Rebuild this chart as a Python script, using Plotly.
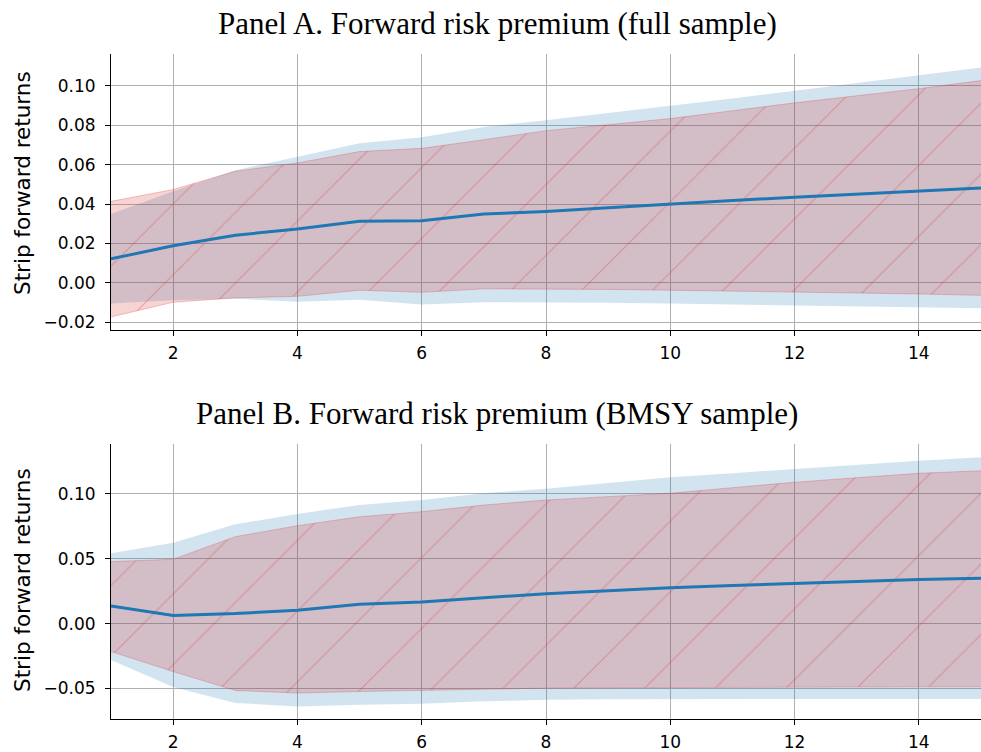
import plotly.graph_objects as go

maturity = list(range(1, 16))
x_ticks = [2, 4, 6, 8, 10, 12, 14]

# Panel A (full sample)
mean_a = [0.0122, 0.0189, 0.0242, 0.0274, 0.0313, 0.0316, 0.0350, 0.0362, 0.0381, 0.0401, 0.0418, 0.0435, 0.0450, 0.0465, 0.0482]
red_up_a = [0.0414, 0.0474, 0.0567, 0.0609, 0.0667, 0.0683, 0.0727, 0.0773, 0.0803, 0.0834, 0.0874, 0.0914, 0.0950, 0.0986, 0.1027]
red_lo_a = [-0.0173, -0.0098, -0.0076, -0.0068, -0.0037, -0.0048, -0.0030, -0.0030, -0.0033, -0.0037, -0.0041, -0.0046, -0.0051, -0.0056, -0.0063]
blue_up_a = [0.0350, 0.0465, 0.0572, 0.0640, 0.0709, 0.0739, 0.0792, 0.0826, 0.0862, 0.0897, 0.0936, 0.0976, 0.1016, 0.1056, 0.1093]
blue_lo_a = [-0.0105, -0.0088, -0.0081, -0.0096, -0.0085, -0.0110, -0.0098, -0.0098, -0.0101, -0.0105, -0.0110, -0.0114, -0.0118, -0.0122, -0.0129]

# Panel B (BMSY sample)
mean_b = [0.0136, 0.0062, 0.0077, 0.0103, 0.0149, 0.0167, 0.0200, 0.0230, 0.0254, 0.0277, 0.0294, 0.0311, 0.0325, 0.0339, 0.0350]
red_up_b = [0.0478, 0.0496, 0.0670, 0.0755, 0.0824, 0.0863, 0.0914, 0.0953, 0.0979, 0.1005, 0.1048, 0.1090, 0.1125, 0.1159, 0.1179]
red_lo_b = [-0.0216, -0.0370, -0.0516, -0.0536, -0.0524, -0.0516, -0.0503, -0.0498, -0.0495, -0.0493, -0.0490, -0.0488, -0.0488, -0.0488, -0.0488]
blue_up_b = [0.0542, 0.0624, 0.0766, 0.0846, 0.0915, 0.0953, 0.1005, 0.1040, 0.1084, 0.1128, 0.1160, 0.1192, 0.1224, 0.1256, 0.1282]
blue_lo_b = [-0.0280, -0.0489, -0.0612, -0.0639, -0.0626, -0.0618, -0.0600, -0.0587, -0.0584, -0.0582, -0.0582, -0.0582, -0.0582, -0.0582, -0.0582]

titles = ["Panel A. Forward risk premium (full sample)", "Panel B. Forward risk premium (BMSY sample)"]
ylabel = "Strip forward returns"

BLUE = "rgb(31,119,180)"
BLUE_FILL = "rgba(31,119,180,0.2)"
RED_FILL = "rgba(214,39,40,0.2)"
RED_EDGE = "rgba(214,39,40,0.25)"

fig = go.Figure()


def add_panel(xa, ya, mean, rup, rlo, bup, blo):
    fig.add_trace(go.Scatter(x=maturity, y=blo, xaxis=xa, yaxis=ya, mode="lines",
                             line=dict(width=0, color=BLUE_FILL), showlegend=False, hoverinfo="skip"))
    fig.add_trace(go.Scatter(x=maturity, y=bup, xaxis=xa, yaxis=ya, mode="lines",
                             line=dict(width=0, color=BLUE_FILL), fill="tonexty", fillcolor=BLUE_FILL,
                             showlegend=False, hoverinfo="skip"))
    fig.add_trace(go.Scatter(x=maturity, y=rlo, xaxis=xa, yaxis=ya, mode="lines",
                             line=dict(width=1, color=RED_EDGE), showlegend=False, hoverinfo="skip"))
    fig.add_trace(go.Scatter(x=maturity, y=rup, xaxis=xa, yaxis=ya, mode="lines",
                             line=dict(width=1, color=RED_EDGE), fill="tonexty", fillcolor=RED_FILL,
                             fillpattern=dict(shape="/", size=50, solidity=0.024,
                                              bgcolor=RED_FILL, fgcolor="rgb(214,39,40)",
                                              fgopacity=0.3, fillmode="replace"),
                             showlegend=False, hoverinfo="skip"))
    fig.add_trace(go.Scatter(x=maturity, y=mean, xaxis=xa, yaxis=ya, mode="lines",
                             line=dict(width=3, color=BLUE), showlegend=False))


add_panel("x", "y", mean_a, red_up_a, red_lo_a, blue_up_a, blue_lo_a)
add_panel("x2", "y2", mean_b, red_up_b, red_lo_b, blue_up_b, blue_lo_b)

axis_common = dict(showline=True, linecolor="black", linewidth=1.1, mirror=False,
                   ticks="outside", ticklen=5, tickwidth=1.1, tickcolor="black",
                   showgrid=True, gridcolor="#b0b0b0", gridwidth=1.1, zeroline=False,
                   tickfont=dict(family="DejaVu Sans", size=17, color="black"))

top_a = 1.0
bot_a = (719 - 330) / 665
top_b = (719 - 444) / 665

fig.update_layout(
    width=981, height=752,
    margin=dict(l=111, r=0, t=54, b=33),
    plot_bgcolor="white", paper_bgcolor="white",
    xaxis=dict(axis_common, range=[1, 15], tickvals=x_ticks, anchor="y", domain=[0, 1],
               ticklabelstandoff=3),
    yaxis=dict(axis_common, range=[-0.0239, 0.1162], dtick=0.02, tick0=0, tickformat=".2f",
               anchor="x", domain=[bot_a, top_a], ticklabelstandoff=6),
    xaxis2=dict(axis_common, range=[1, 15], tickvals=x_ticks, anchor="y2", domain=[0, 1],
                ticklabelstandoff=3),
    yaxis2=dict(axis_common, range=[-0.0736, 0.1385], dtick=0.05, tick0=0, tickformat=".2f",
                anchor="x2", domain=[0, top_b], ticklabelstandoff=6),
)

title_x = (497 - 111) / 870
ylab_x = (22 - 111) / 870
for t, py in zip(titles, [24, 413]):
    fig.add_annotation(text=t, xref="paper", yref="paper", x=title_x, y=(719 - py) / 665,
                       xanchor="center", yanchor="middle", showarrow=False,
                       font=dict(family="Liberation Serif", size=31, color="black"))
for cy in [183, 580]:
    fig.add_annotation(text=ylabel, xref="paper", yref="paper", x=ylab_x, y=(719 - cy) / 665,
                       xanchor="center", yanchor="middle", textangle=-90, showarrow=False,
                       font=dict(family="DejaVu Sans", size=21.5, color="black"))

fig.write_html("out.html", config={"displayModeBar": False},
               post_script="document.body.style.margin='0';document.body.style.overflow='hidden';")
